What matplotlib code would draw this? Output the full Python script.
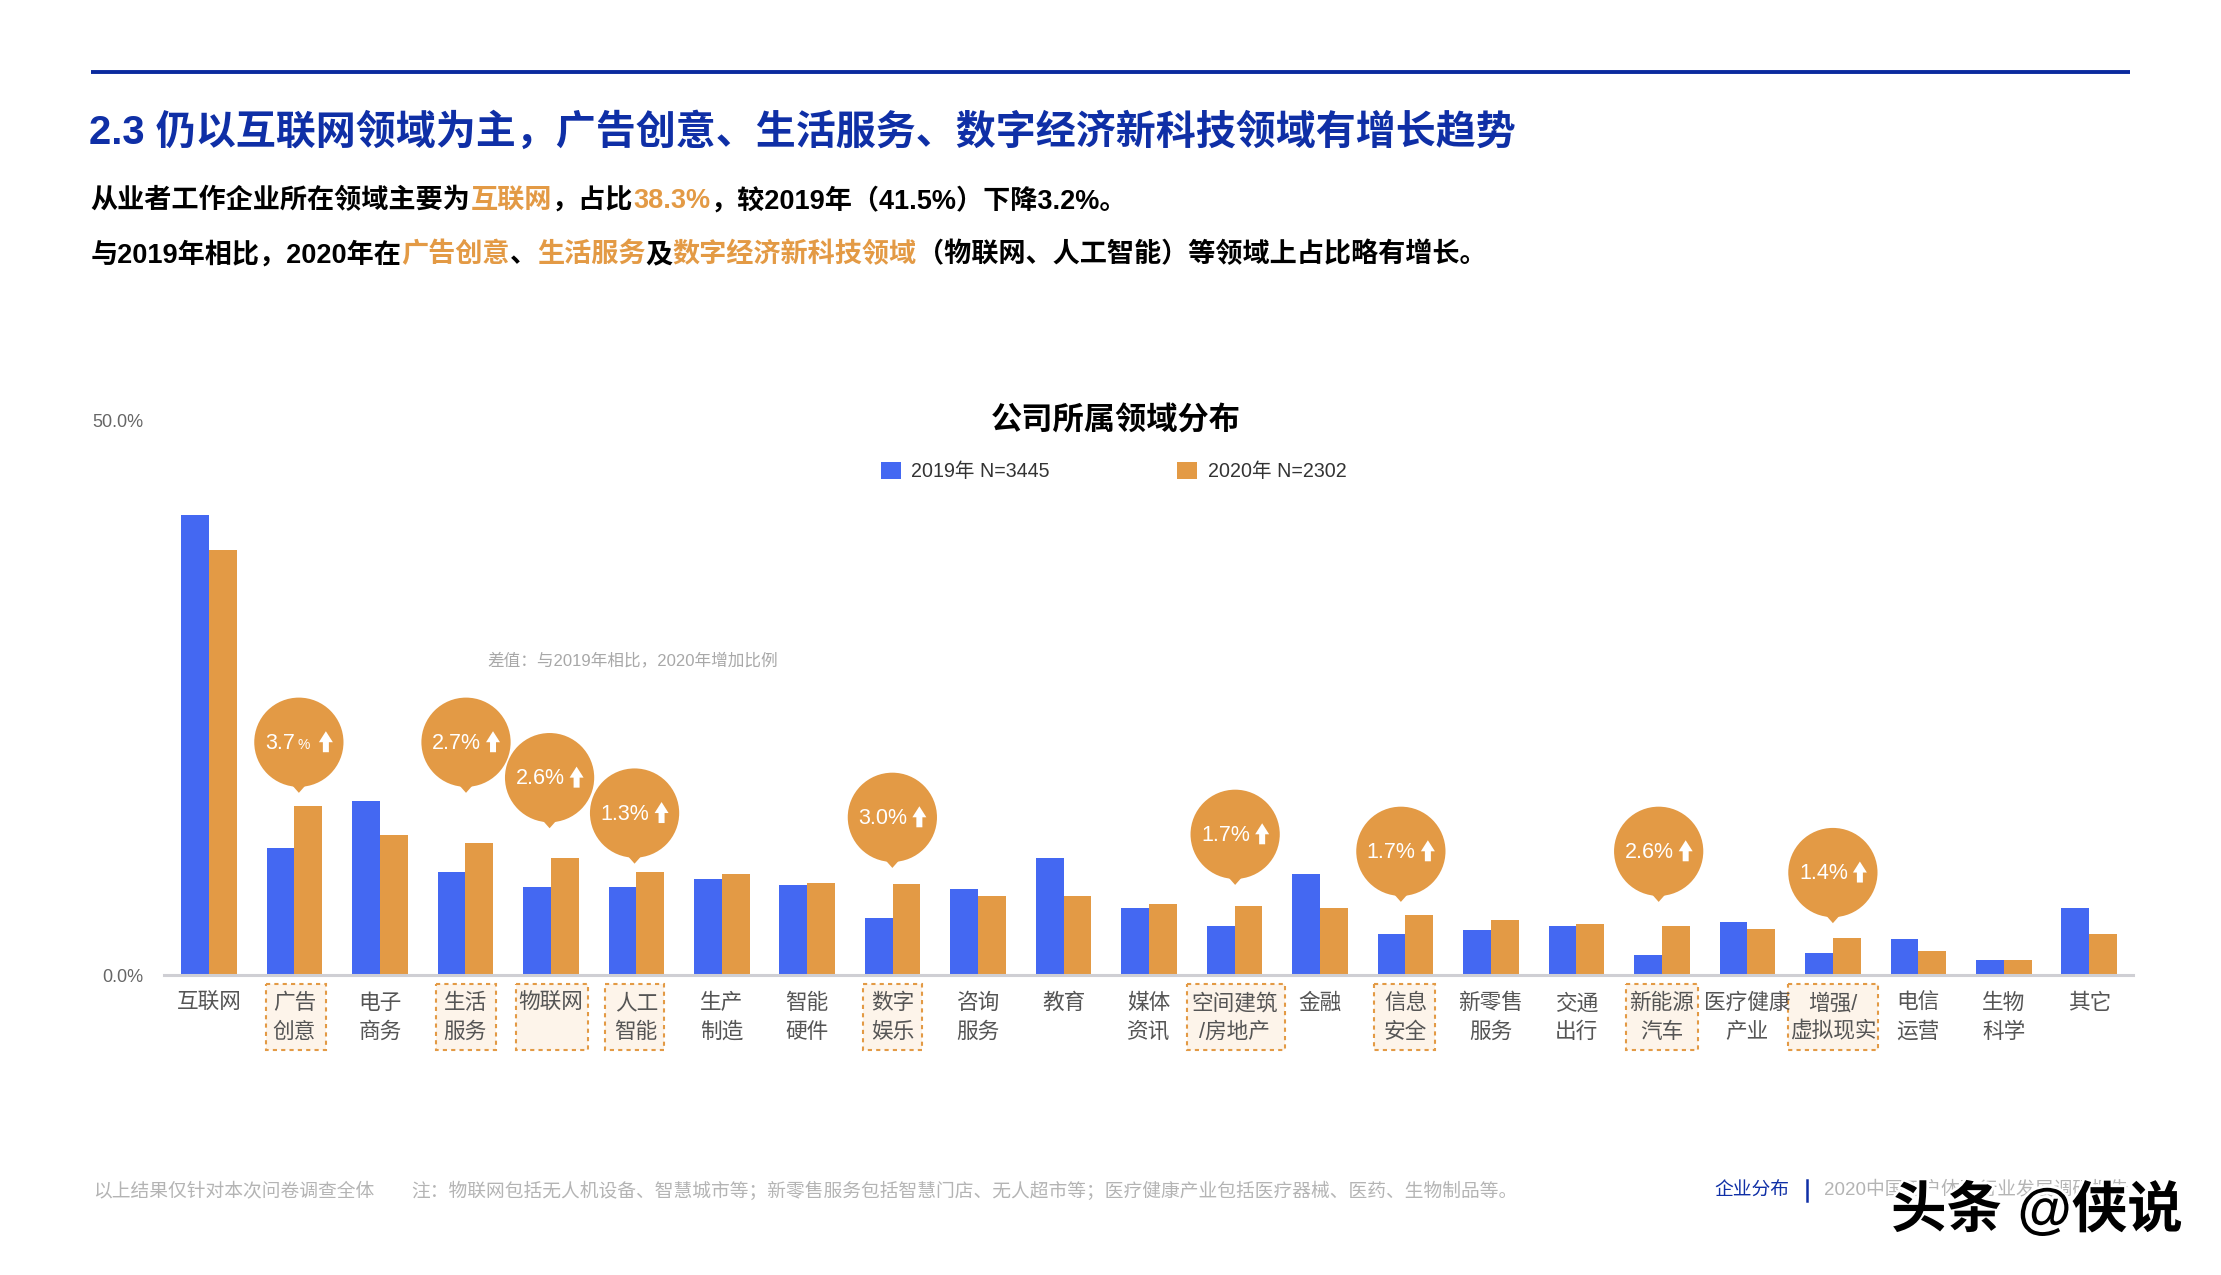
import matplotlib
matplotlib.use('Agg')
import matplotlib.pyplot as plt
import matplotlib.patheffects as pe
from matplotlib.patches import Circle, Polygon, Rectangle
import numpy as np

plt.rcParams['font.family'] = ['Liberation Sans', 'Noto Sans CJK SC']

# data
categories = ['互联网', '广告\n创意', '电子\n商务', '生活\n服务', '物联网\n ', '人工\n智能', '生产\n制造', '智能\n硬件',
              '数字\n娱乐', '咨询\n服务', '教育', '媒体\n资讯', '空间建筑\n/房地产', '金融', '信息\n安全', '新零售\n服务',
              '交通\n出行', '新能源\n汽车', '医疗健康\n产业', '增强/\n虚拟现实', '电信\n运营', '生物\n科学', '其它']
v2019 = [41.5, 11.5, 15.7, 9.3, 8.0, 8.0, 8.7, 8.1, 5.2, 7.8, 10.6, 6.1, 4.4, 9.1, 3.7, 4.1, 4.4, 1.8, 4.8, 2.0, 3.3, 1.4, 6.1]
v2020 = [38.3, 15.3, 12.6, 11.9, 10.6, 9.3, 9.1, 8.3, 8.2, 7.1, 7.1, 6.4, 6.2, 6.1, 5.4, 5.0, 4.6, 4.4, 4.2, 3.4, 2.2, 1.4, 3.7]
series_names = ['2019年 N=3445', '2020年 N=2302']
yticks = [0, 50]
ytick_labels = ['0.0%', '50.0%']

# increases called out in the bubbles
bubble_idx = [1, 3, 4, 5, 8, 12, 14, 17, 19]
bubble_text = ['3.7', '2.7', '2.6', '1.3', '3.0', '1.7', '1.7', '2.6', '1.4']

BLUE = '#4468F2'
ORANGE = '#E39A45'
NAVY = '#0F2FA6'
W, H = 2221, 1275
SC = W / 1568  # coordinates below were measured on a 1568 wide view

fig = plt.figure(figsize=(W / 100, H / 100), dpi=100, facecolor='white')


def overlay(z):
    a = fig.add_axes([0, 0, 1, 1], zorder=z)
    a.set_xlim(0, W)
    a.set_ylim(H, 0)
    a.axis('off')
    return a


back = overlay(0)
front = overlay(2)

# chart axes
ax_l, ax_r, ax_b, ax_t = 116 * SC, 1506 * SC, 688.5 * SC, 297 * SC
ax = fig.add_axes([ax_l / W, 1 - ax_b / H, (ax_r - ax_l) / W, (ax_b - ax_t) / H], zorder=1)
ax.patch.set_visible(False)
step = 60.34
ax.set_xlim((116 - 147.5) / step, (1506 - 147.5) / step)
ax.set_ylim(0, 50)
x = np.arange(len(categories))
bw = 19.6 / step
b1 = ax.bar(x - bw / 2, v2019, bw, color=BLUE, label=series_names[0])
b2 = ax.bar(x + bw / 2, v2020, bw, color=ORANGE, label=series_names[1])
for s in ['top', 'left', 'right']:
    ax.spines[s].set_visible(False)
ax.spines['bottom'].set_color('#CFCFD4')
ax.spines['bottom'].set_linewidth(2.2)
ax.set_yticks(yticks, ytick_labels, fontsize=13, color='#666666')
ax.set_xticks(x, categories, fontsize=15.6, color='#555555', linespacing=1.46, va='top')
ax.tick_params(axis='x', length=0, pad=13)
ax.tick_params(axis='y', length=0, pad=15)

# dashed boxes behind the highlighted labels (left, right in view coords)
boxes = [(188, 230), (308, 350), (364, 415), (427, 469), (609, 651), (838, 907), (970, 1013), (1148, 1199), (1262, 1326)]
for l, r in boxes:
    back.add_patch(Rectangle((l * SC, 695 * SC), (r - l) * SC, 46 * SC, facecolor='#FDF4EA', edgecolor=ORANGE,
                             lw=1.5, ls=(0, (2, 2))))

# bubbles
bubble_cx = [211, 329, 388, 448, 630, 872, 989, 1171, 1294]
bubble_cy = [524, 524, 549, 574, 577, 589, 601, 601, 616]
R = 31.5 * SC
for cx, cy, txt in zip(bubble_cx, bubble_cy, bubble_text):
    px, py = cx * SC, cy * SC
    front.add_patch(Circle((px, py), R, color=ORANGE, lw=0))
    front.add_patch(Polygon([(px - 8, py + R - 3), (px + 8, py + R - 3), (px, py + R + 6)], color=ORANGE, lw=0))
    if txt == '3.7':
        front.text(px - 34, py + 1, txt, color='white', fontsize=15.5, va='center', ha='left')
        front.text(px - 1, py + 3, '%', color='white', fontsize=10, va='center', ha='left')
    else:
        front.text(px - 34, py + 1, txt + '%', color='white', fontsize=15.5, va='center', ha='left')
    ax0 = px + 27
    front.add_patch(Polygon([(ax0 - 7, py + 0), (ax0, py - 11), (ax0 + 7, py + 0), (ax0 + 3, py + 0), (ax0 + 3, py + 10),
                             (ax0 - 3, py + 10), (ax0 - 3, py + 0)], color='white', lw=0))

# top rule
front.plot([64 * SC, 1504 * SC], [50.5 * SC, 50.5 * SC], color='#0A2A9E', lw=2.8, solid_capstyle='butt')


def rich(x0, y0, parts, size, weight='bold'):
    # text runs in different colours, one after the other
    r = fig.canvas.get_renderer()
    cur = x0
    for s, c in parts:
        t = front.text(cur, y0, s, color=c, fontsize=size, fontweight=weight, va='center', ha='left')
        cur = t.get_window_extent(r).x1


front.text(63 * SC, 93.5 * SC, '2.3 仍以互联网领域为主，广告创意、生活服务、数字经济新科技领域有增长趋势', color=NAVY,
           fontsize=28.8, fontweight='bold', va='center')
rich(64 * SC, 142 * SC, [('从业者工作企业所在领域主要为', 'black'), ('互联网', ORANGE), ('，占比', 'black'), ('38.3%', ORANGE),
                         ('，较2019年（41.5%）下降3.2%。', 'black')], 19.55)
rich(64 * SC, 180 * SC, [('与2019年相比，2020年在', 'black'), ('广告创意', ORANGE), ('、', 'black'), ('生活服务', ORANGE), ('及', 'black'),
                         ('数字经济新科技领域', ORANGE), ('（物联网、人工智能）等领域上占比略有增长。', 'black')], 19.55)

front.text(788 * SC, 297.5 * SC, '公司所属领域分布', color='black', fontsize=22.5, fontweight='bold', ha='center', va='center')
leg = ax.legend(loc='center left', bbox_to_anchor=(622 * SC, 333 * SC), bbox_transform=front.transData, ncol=2, frameon=False,
                fontsize=14.1, handlelength=1, handleheight=1, handletextpad=0.55, columnspacing=6.5, borderpad=0, borderaxespad=0,
                labelcolor='#333333')

front.text(344 * SC, 466 * SC, '差值：与2019年相比，2020年增加比例', color='#A8A8A8', fontsize=12, va='center')

# footer
front.text(66 * SC, 841 * SC, '以上结果仅针对本次问卷调查全体', color='#B4B4B4', fontsize=13.5, va='center')
front.text(290 * SC, 841 * SC, '注：物联网包括无人机设备、智慧城市等；新零售服务包括智慧门店、无人超市等；医疗健康产业包括医疗器械、医药、生物制品等。',
           color='#B4B4B4', fontsize=13.5, va='center')
front.text(1210 * SC, 841 * SC, '企业分布', color=NAVY, fontsize=13.5, va='center')
front.plot([1276 * SC, 1276 * SC], [833 * SC, 848 * SC], color=NAVY, lw=1.8)
front.text(1288 * SC, 840 * SC, '2020中国用户体验行业发展调研报告', color='#B4B4B4', fontsize=13.5, va='center')

# watermark
front.text(1335 * SC, 855 * SC, '头条 @侠说', color='black', fontsize=40, va='center', fontweight='bold',
           path_effects=[pe.withStroke(linewidth=4, foreground='white')])

fig.savefig('out.png', dpi=100)
